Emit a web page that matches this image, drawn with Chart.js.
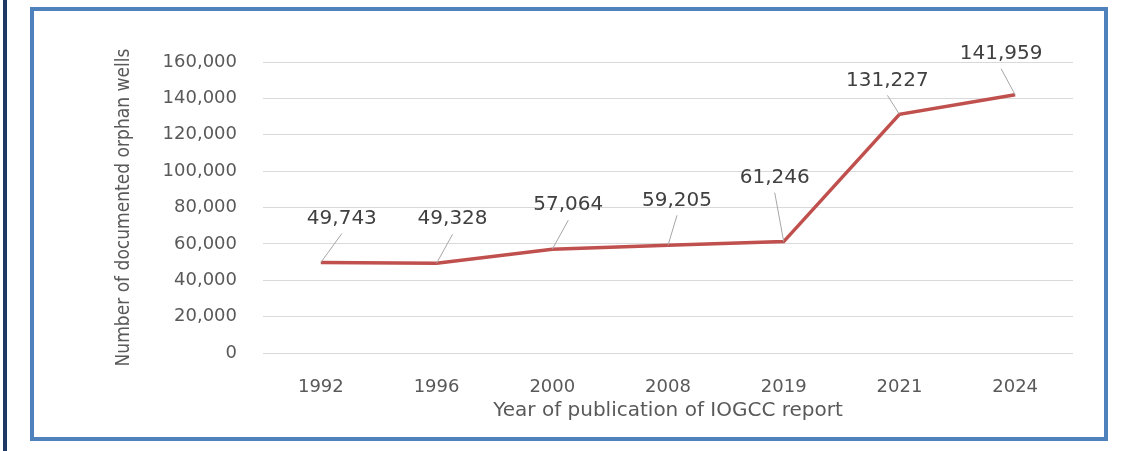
<!DOCTYPE html>
<html>
<head>
    <title>Documented orphan wells</title>
    <script src="https://cdn.jsdelivr.net/npm/chart.js"></script>
    <style>
        body { margin: 0; background: white; width: 1135px; height: 451px; overflow: hidden; position: relative; }
        .edge { position: absolute; left: 3px; top: 0; width: 4px; height: 451px; background: #1f3864; }
        .frame { position: absolute; left: 30px; top: 7px; width: 1070px; height: 426px; border: 4px solid #4f81bd; }
        .chart-box { position: absolute; left: 0; top: 0; width: 1135px; height: 451px; }
    </style>
</head>
<body>
    <div class="edge"></div>
    <div class="frame"></div>
    <div class="chart-box">
        <canvas id="wells-chart" width="1135" height="451"></canvas>
    </div>

    <script>
        // data
        const years = ['1992', '1996', '2000', '2008', '2019', '2021', '2024'];
        const orphanWells = [49743, 49328, 57064, 59205, 61246, 131227, 141959];
        const yMax = 160000;
        const yStep = 20000;

        // where each value label sits relative to its point (px)
        const labelOffsets = [[21, -44], [16, -44], [16, -44], [9, -45], [-9, -64], [-12, -34], [-14, -41]];

        const grey = '#595959';
        const textFont = '"DejaVu Sans", sans-serif';

        // labels with small leader lines, like the Excel callouts
        const leaderLabels = {
            id: 'leaderLabels',
            afterDatasetsDraw(chart) {
                const ctx = chart.ctx;
                const meta = chart.getDatasetMeta(0);
                const values = chart.data.datasets[0].data;
                ctx.save();
                ctx.font = '20px ' + textFont;
                ctx.textAlign = 'center';
                ctx.textBaseline = 'middle';
                meta.data.forEach((pt, i) => {
                    const cx = pt.x + labelOffsets[i][0];
                    const cy = pt.y + labelOffsets[i][1];
                    ctx.strokeStyle = '#a6a6a6';
                    ctx.lineWidth = 1;
                    ctx.beginPath();
                    ctx.moveTo(pt.x, pt.y);
                    ctx.lineTo(cx, cy + 15);
                    ctx.stroke();
                    ctx.fillStyle = '#404040';
                    ctx.fillText(values[i].toLocaleString('en-US'), cx, cy);
                });
                ctx.restore();
            }
        };

        new Chart(document.getElementById('wells-chart'), {
            type: 'line',
            data: {
                labels: years,
                datasets: [{
                    data: orphanWells,
                    borderColor: '#c0504d',
                    borderWidth: 3.5,
                    pointRadius: 0,
                    tension: 0
                }]
            },
            options: {
                responsive: false,
                animation: false,
                layout: { padding: { top: 62, right: 62, left: 0, bottom: 0 } },
                plugins: { legend: { display: false }, tooltip: { enabled: false } },
                scales: {
                    x: {
                        offset: true,
                        grid: { display: false },
                        border: { display: false },
                        ticks: { color: grey, font: { family: textFont, size: 18 }, padding: 16, maxRotation: 0 },
                        title: {
                            display: true,
                            text: 'Year of publication of IOGCC report',
                            color: grey,
                            font: { family: textFont, size: 20 },
                            padding: { top: 0, bottom: 28 }
                        },
                        afterFit(scale) { scale.height = 98; }
                    },
                    y: {
                        min: 0,
                        max: yMax,
                        grid: { color: '#d9d9d9', drawTicks: false },
                        border: { display: false },
                        ticks: {
                            stepSize: yStep,
                            color: grey,
                            font: { family: textFont, size: 18 },
                            padding: 26,
                            callback: v => v.toLocaleString('en-US')
                        },
                        title: {
                            display: true,
                            text: 'Number of documented orphan wells',
                            color: grey,
                            font: { family: '"Liberation Sans Narrow", "DejaVu Sans Condensed", sans-serif', size: 19 },
                            padding: { top: 113, bottom: 0 }
                        },
                        afterFit(scale) { scale.width = 263; }
                    }
                }
            },
            plugins: [leaderLabels]
        });
    </script>
</body>
</html>
